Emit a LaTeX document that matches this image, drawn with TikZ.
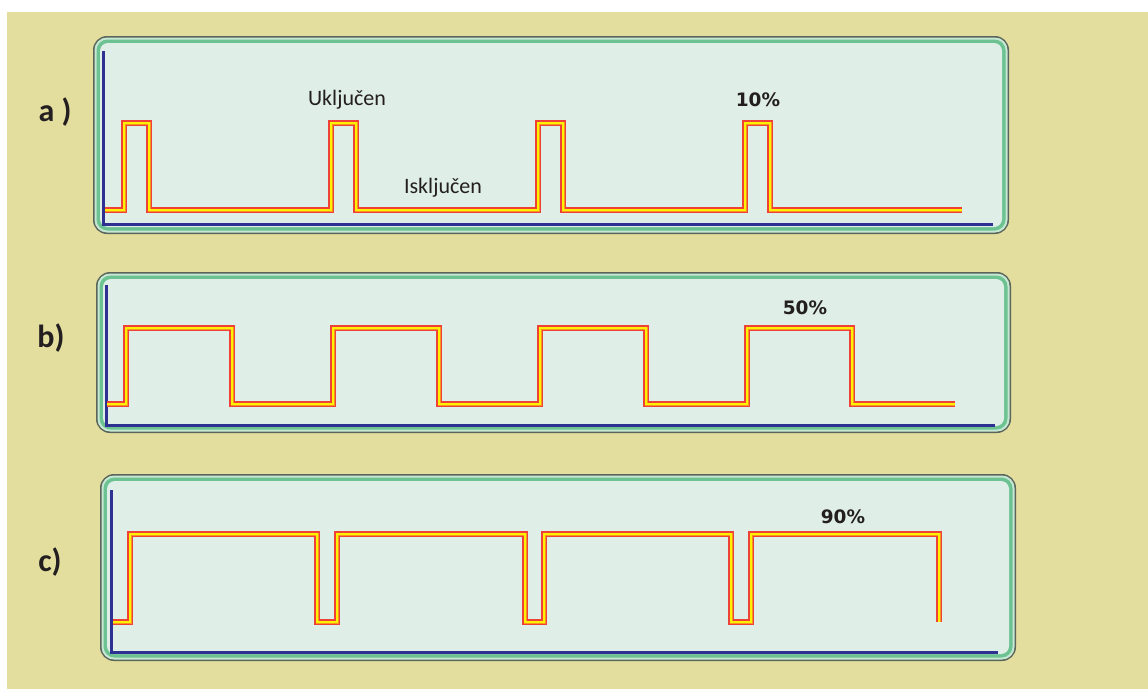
\documentclass[tikz,border=0pt]{standalone}
\usepackage{fontspec}
\setmainfont{Carlito}
\newfontfamily\pctfont{DejaVu Sans}
\definecolor{bgbeige}{HTML}{E3DD9E}
\definecolor{boxedge}{HTML}{5A665C}
\definecolor{boxlight}{HTML}{C6E7D2}
\definecolor{boxgreen}{HTML}{6CC291}
\definecolor{boxfill}{HTML}{DFEEE6}
\definecolor{axisblue}{HTML}{2E3192}
\definecolor{sigred}{HTML}{EF4136}
\definecolor{sigorange}{HTML}{F7941D}
\definecolor{sigyellow}{HTML}{FFF200}
\definecolor{txt}{HTML}{231F20}
\tikzset{
  sig/.style={draw=sigred,line width=6.4,line join=miter,
    postaction={draw=sigorange,line width=3},
    postaction={draw=sigyellow,line width=2}},
  axisline/.style={draw=axisblue,line width=3,line join=miter},
  panellabel/.style={text=txt,font=\bfseries\fontsize{32}{32}\selectfont,inner sep=0pt},
  wavelabel/.style={text=txt,font=\fontsize{22}{22}\selectfont,inner sep=0pt,anchor=base},
  pctlabel/.style={text=txt,font=\pctfont\bfseries\fontsize{18.5}{18.5}\selectfont,inner sep=0pt,anchor=base},
}
\newcommand\panelbox[4]{%
  \fill[boxedge,rounded corners=14pt] (#1,#2) rectangle (#3,#4);
  \pgfmathsetmacro\pxa{#1+1.5}\pgfmathsetmacro\pya{#2+1.5}%
  \pgfmathsetmacro\pxb{#3-1.5}\pgfmathsetmacro\pyb{#4-1.5}%
  \fill[boxlight,rounded corners=12.5pt] (\pxa,\pya) rectangle (\pxb,\pyb);
  \pgfmathsetmacro\pxa{#1+3.5}\pgfmathsetmacro\pya{#2+3.5}%
  \pgfmathsetmacro\pxb{#3-3.5}\pgfmathsetmacro\pyb{#4-3.5}%
  \fill[boxgreen,rounded corners=11pt] (\pxa,\pya) rectangle (\pxb,\pyb);
  \pgfmathsetmacro\pxa{#1+7}\pgfmathsetmacro\pya{#2+7}%
  \pgfmathsetmacro\pxb{#3-7}\pgfmathsetmacro\pyb{#4-7}%
  \fill[boxfill,rounded corners=8pt] (\pxa,\pya) rectangle (\pxb,\pyb);
}
\begin{document}
\begin{tikzpicture}[x=1pt,y=-1pt]
\useasboundingbox (0,0) rectangle (1148,689);
\fill[white] (0,0) rectangle (1148,689);
\fill[bgbeige] (7,12) rectangle (1148,689);

% panel a
\panelbox{93}{36}{1009}{234}
\draw[axisline] (103,51) -- (103,224) -- (993,224);
\draw[sig] (105,210) -- (124,210) -- (124,123) -- (149,123) -- (149,210)
  -- (331,210) -- (331,123) -- (356,123) -- (356,210)
  -- (538,210) -- (538,123) -- (563,123) -- (563,210)
  -- (745,210) -- (745,123) -- (770,123) -- (770,210) -- (962,210);
\node[panellabel] (la) at (55,112) {a )};
\node[wavelabel] (on) at (347,105) {Uključen};
\node[wavelabel] (off) at (443,193) {Isključen};
\node[pctlabel] (p10) at (758,106) {10\%};

% panel b
\panelbox{96}{272}{1011}{433}
\draw[axisline] (106,285) -- (106,425) -- (995,425);
\draw[sig] (107,404) -- (126,404) -- (126,328) -- (232,328) -- (232,404)
  -- (333,404) -- (333,328) -- (439,328) -- (439,404)
  -- (540,404) -- (540,328) -- (646,328) -- (646,404)
  -- (747,404) -- (747,328) -- (852,328) -- (852,404) -- (955,404);
\node[panellabel] (lb) at (51,338) {b)};
\node[pctlabel] (p50) at (805,314) {50\%};

% panel c
\panelbox{100}{474}{1016}{661}
\draw[axisline] (111,490) -- (111,652) -- (998,652);
\draw[sig] (113,622) -- (130,622) -- (130,534) -- (317,534) -- (317,622)
  -- (337,622) -- (337,534) -- (525,534) -- (525,622)
  -- (544,622) -- (544,534) -- (731,534) -- (731,622)
  -- (751,622) -- (751,534) -- (939,534) -- (939,622);
\node[panellabel] (lc) at (50,562) {c)};
\node[pctlabel] (p90) at (843,523) {90\%};
\end{tikzpicture}
\end{document}
